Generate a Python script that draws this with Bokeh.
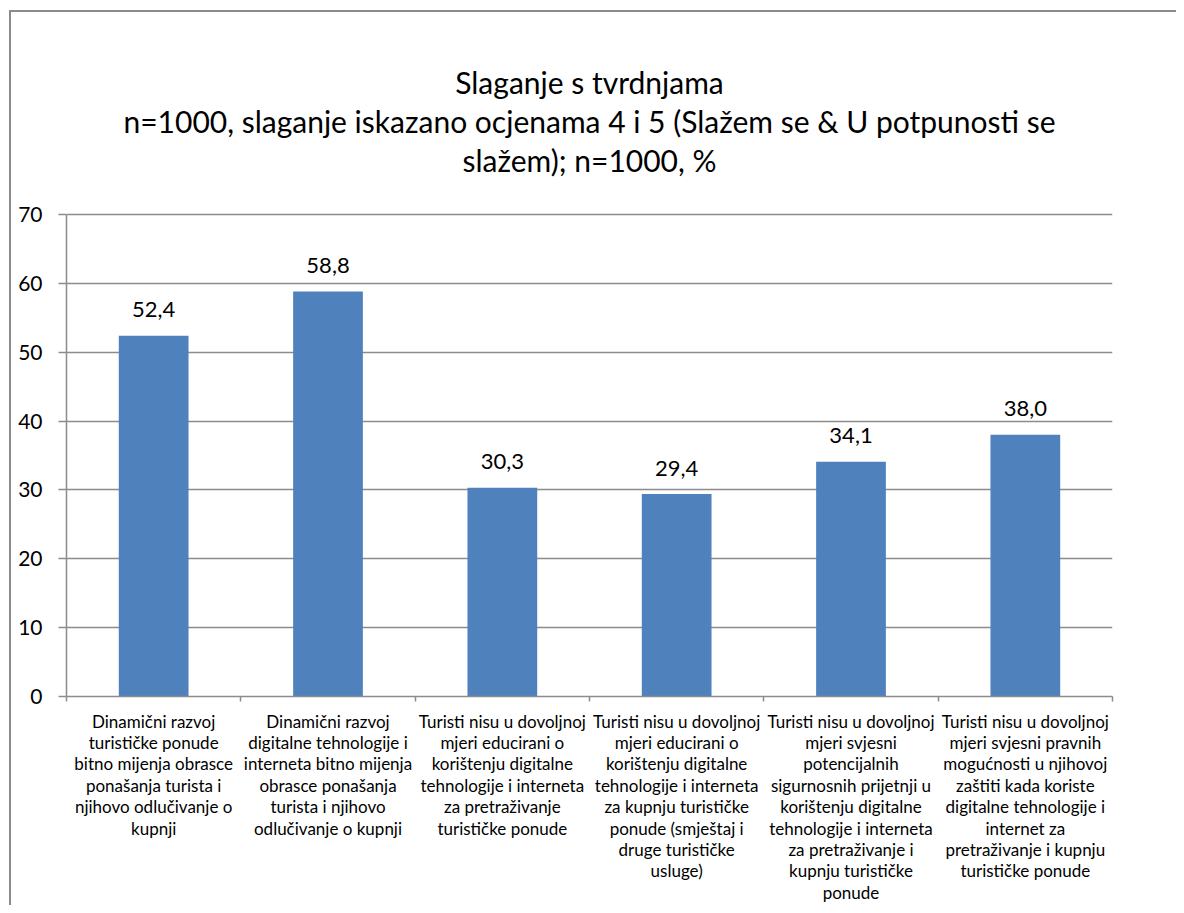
from bokeh.plotting import figure
from bokeh.models import Range1d, FixedTicker, ColumnDataSource, Title
from bokeh.embed import file_html
from bokeh.resources import INLINE
from bokeh.core.properties import value

categories = [
    "Dinamični razvoj\nturističke ponude\nbitno mijenja obrasce\nponašanja turista i\nnjihovo odlučivanje o\nkupnji",
    "Dinamični razvoj\ndigitalne tehnologije i\ninterneta bitno mijenja\nobrasce ponašanja\nturista i njihovo\nodlučivanje o kupnji",
    "Turisti nisu u dovoljnoj\nmjeri educirani o\nkorištenju digitalne\ntehnologije i interneta\nza pretraživanje\nturističke ponude",
    "Turisti nisu u dovoljnoj\nmjeri educirani o\nkorištenju digitalne\ntehnologije i interneta\nza kupnju turističke\nponude (smještaj i\ndruge turističke\nusluge)",
    "Turisti nisu u dovoljnoj\nmjeri svjesni\npotencijalnih\nsigurnosnih prijetnji u\nkorištenju digitalne\ntehnologije i interneta\nza pretraživanje i\nkupnju turističke\nponude",
    "Turisti nisu u dovoljnoj\nmjeri svjesni pravnih\nmogućnosti u njihovoj\nzaštiti kada koriste\ndigitalne tehnologije i\ninternet za\npretraživanje i kupnju\nturističke ponude",
]
values = [52.4, 58.8, 30.3, 29.4, 34.1, 38.0]
value_labels = ["52,4", "58,8", "30,3", "29,4", "34,1", "38,0"]
y_ticks = [0, 10, 20, 30, 40, 50, 60, 70]
title_lines = [
    "Slaganje s tvrdnjama",
    "n=1000, slaganje iskazano ocjenama 4 i 5 (Slažem se & U potpunosti se",
    "slažem); n=1000, %",
]

FONT = "Lato"
GRAY = "#8c8c8c"
BLUE = "#4F81BD"

# layout: value axis 0..70 spans 483 px; frame extends 36 px above 70 for the title gap
AXIS_MAX = 70
FRAME_TOP, AXIS_TOP_PX, AXIS_BOTTOM_PX = 178, 214, 697
y_end = AXIS_MAX * (AXIS_BOTTOM_PX - FRAME_TOP) / (AXIS_BOTTOM_PX - AXIS_TOP_PX)

xs = [i + 0.5 for i in range(len(values))]
src = ColumnDataSource(dict(x=xs, v=values, lab=value_labels))

p = figure(width=1176, height=905, output_backend="svg", toolbar_location=None,
           title=None,
           x_range=Range1d(0, len(values)), y_range=Range1d(0, y_end),
           min_border_left=66, min_border_right=64, min_border_top=FRAME_TOP,
           min_border_bottom=208)

p.border_fill_color = None
p.background_fill_color = None
p.styles = {
    "background": ("linear-gradient(#8a8a8a, #8a8a8a) 9px 10px / 2px 100% no-repeat, "
                   "linear-gradient(#8a8a8a, #8a8a8a) 9px 10px / 100% 2px no-repeat, white")
}

# titles: nearest to the frame first
for line in reversed(title_lines):
    t = Title(text=line, align="center", text_font=FONT, text_font_size="30px",
              text_font_style="normal", text_color="black", standoff=1)
    p.add_layout(t, "above")

p.vbar(x="x", top="v", bottom=0, width=0.4, source=src, fill_color=BLUE, line_color=None)
p.text(x="x", y="v", text="lab", source=src, text_align="center", text_baseline="alphabetic",
       y_offset=-26, text_font=value(FONT), text_font_size="22px", text_color="black")

p.outline_line_color = None
p.xgrid.visible = False
p.ygrid.ticker = FixedTicker(ticks=y_ticks)
p.ygrid.grid_line_color = GRAY
p.ygrid.grid_line_width = 1.5

xa = p.xaxis[0]
xa.ticker = FixedTicker(ticks=xs, minor_ticks=list(range(len(values) + 1)))
xa.major_label_overrides = {x: c for x, c in zip(xs, categories)}
xa.major_tick_line_color = None
xa.minor_tick_line_color = GRAY
xa.minor_tick_line_width = 1.5
xa.minor_tick_out = 5
xa.minor_tick_in = 0
xa.axis_line_color = GRAY
xa.axis_line_width = 1.5
xa.major_label_text_font = FONT
xa.major_label_text_font_size = "17px"
xa.major_label_text_line_height = 1.02
xa.major_label_text_color = "black"
xa.major_label_standoff = 8

ya = p.yaxis[0]
ya.ticker = FixedTicker(ticks=y_ticks)
ya.bounds = (0, AXIS_MAX)
ya.minor_tick_line_color = None
ya.major_tick_out = 8
ya.major_tick_in = 0
ya.major_tick_line_color = GRAY
ya.major_tick_line_width = 1.5
ya.axis_line_color = GRAY
ya.axis_line_width = 1.5
ya.major_label_text_font = FONT
ya.major_label_text_font_size = "21px"
ya.major_label_text_color = "black"
ya.major_label_standoff = 16

open("out.html", "w").write(file_html(p, INLINE))
